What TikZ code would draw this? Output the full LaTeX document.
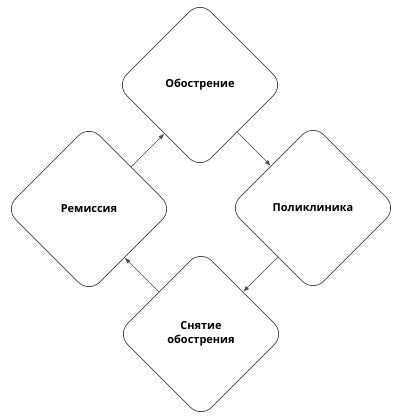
\documentclass[tikz,border=0pt]{standalone}
\usepackage{fontspec}
\setmainfont{Open Sans}
\usetikzlibrary{arrows.meta,calc,shapes.geometric}

\begin{document}
\begin{tikzpicture}[
  x=1pt, y=-1pt,
  >={Latex[length=6pt,width=4.4pt]},
  every node/.style={font=\fontsize{11}{14.5}\selectfont\bfseries},
  stage/.style={draw=black!75, line width=0.7pt, diamond, aspect=1,
    minimum size=168pt, inner sep=0pt, rounded corners=15pt, align=center},
  arr/.style={->, draw=black!70, line width=0.6pt},
]
  \useasboundingbox (0,0) rectangle (400,416);

  % ---------- four stages ----------
  \node[stage] (top)    at (200, 85)  {Обострение};
  \node[stage] (right)  at (313, 208) {Поликлиника};
  \node[stage] (bottom) at (201, 334) {Снятие\\обострения};
  \node[stage] (left)   at (89, 209)  {Ремиссия};

  % ---------- cycle ----------
  \draw[arr] (left.north east) -- ($(top.west)!(left.north east)!(top.south)$);
  \draw[arr] ($(top.south)!(right.north west)!(top.east)$) -- (right.north west);
  \draw[arr] ($(right.west)!(bottom.north east)!(right.south)$) -- (bottom.north east);
  \draw[arr] (bottom.north west) -- ($(left.east)!(bottom.north west)!(left.south)$);
\end{tikzpicture}
\end{document}
